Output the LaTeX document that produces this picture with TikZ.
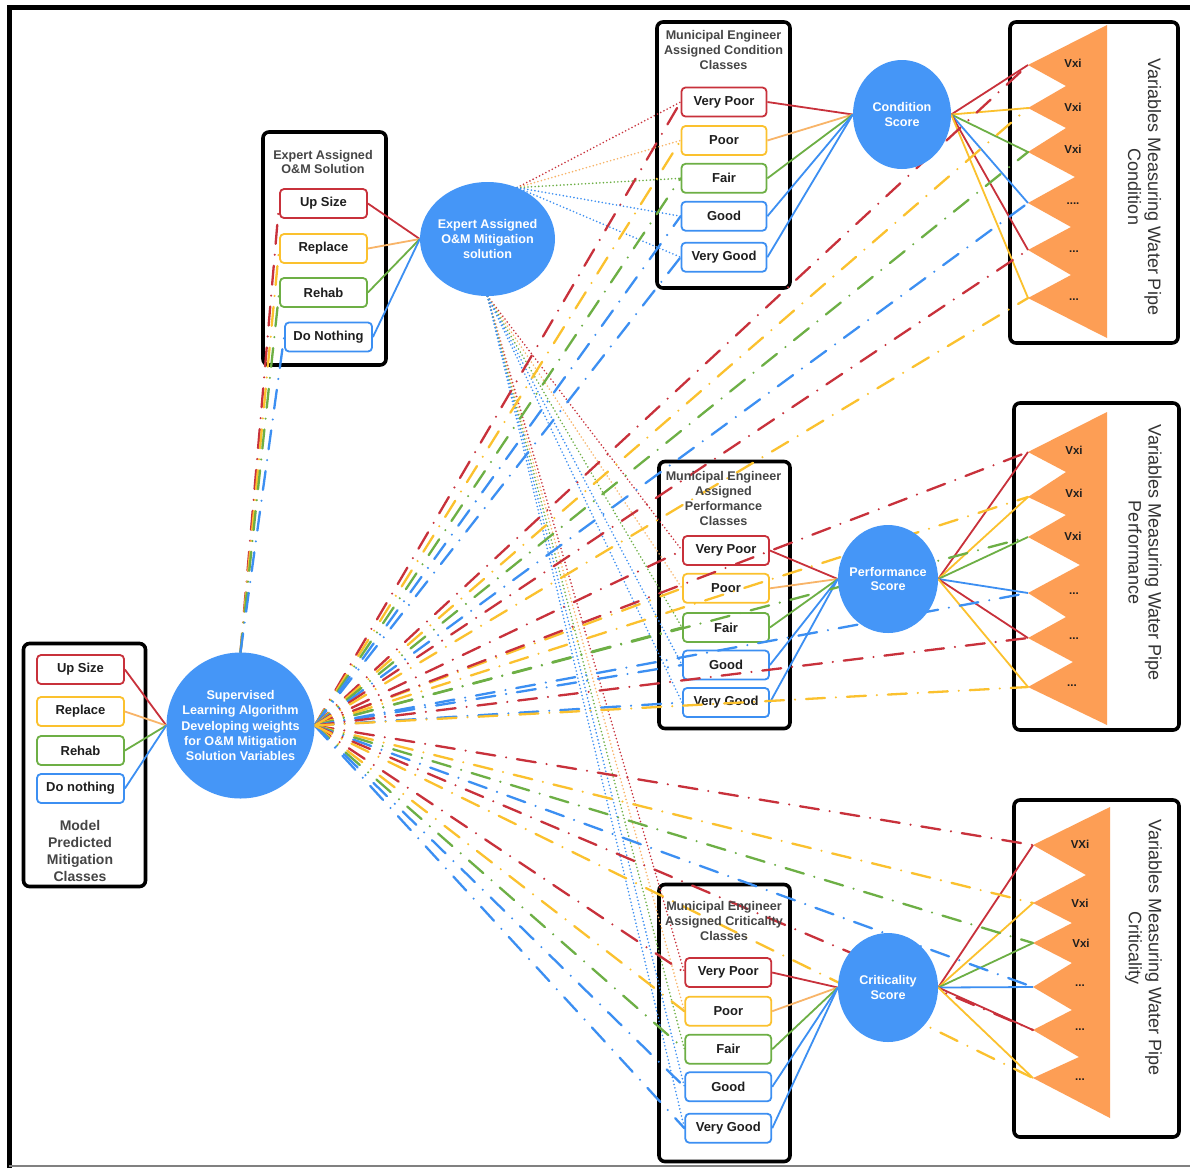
\documentclass[tikz,border=0pt]{standalone}
\usepackage{fontspec}
\setmainfont{Liberation Sans}
\usetikzlibrary{shapes.geometric}

\definecolor{cred}{HTML}{C8313B}
\definecolor{cyel}{HTML}{FBC12E}
\definecolor{corg}{HTML}{F8B468}
\definecolor{cgrn}{HTML}{6DAF45}
\definecolor{cblu}{HTML}{3C8FF2}
\definecolor{nodeblue}{HTML}{4596F7}
\definecolor{pipeorange}{HTML}{FD9E55}
\definecolor{titlegray}{HTML}{454545}
\definecolor{txt}{HTML}{1E1E1E}
\definecolor{vtxt}{HTML}{333333}

\pgfdeclarelayer{bg}
\pgfdeclarelayer{boxes}
\pgfdeclarelayer{links}
\pgfsetlayers{bg,boxes,links,main}

\tikzset{
  cls/.style={draw=#1, line width=1.8pt, rounded corners=4pt, fill=white,
    minimum width=86pt, minimum height=29pt, inner sep=0pt, text=txt,
    font=\bfseries\fontsize{13}{15}\selectfont},
  grp/.style={draw=black, line width=3.6pt, rounded corners=6pt, fill=white, inner sep=0pt},
  ttl/.style={text=titlegray, align=center, inner sep=0pt,
    font=\bfseries\fontsize{12.6}{15}\selectfont},
  score/.style={ellipse, fill=nodeblue, inner sep=-14pt, text=white, align=center,
    font=\bfseries\fontsize{12.6}{14.7}\selectfont},
  varlbl/.style={text=txt, inner sep=0pt, font=\bfseries\fontsize{11.5}{13}\selectfont},
  vert/.style={rotate=-90, text=vtxt, align=center, inner sep=0pt,
    font=\fontsize{18}{20}\selectfont},
  solidlink/.style={line width=1.8pt},
  dotlink/.style={line width=1.8pt, line cap=round, dash pattern=on 0pt off 3.6pt},
  ddlink/.style={line width=2.3pt, line cap=round, dash pattern=on 19pt off 11pt on 0pt off 11pt},
}

\begin{document}
\begin{tikzpicture}[x=1pt,y=-1pt]
\useasboundingbox (0,0) rectangle (1190,1168);

\begin{pgfonlayer}{bg}
  \fill[white] (0,0) rectangle (1190,1168);
  \draw[line width=5pt] (9,1168) -- (9,7) -- (1190,7);
  \draw[line width=1.5pt, gray] (9,1166) -- (1190,1166);
\end{pgfonlayer}

% ---------- group boxes, class boxes and variable panels ----------
\begin{pgfonlayer}{boxes}
  \node[grp, minimum width=122pt, minimum height=243pt] (mbox) at (84.5,765) {};
  \node[grp, minimum width=123pt, minimum height=233pt] (ebox) at (324.5,248.5) {};
  \node[grp, minimum width=133pt, minimum height=266pt] (cbox) at (723.5,155) {};
  \node[grp, minimum width=131pt, minimum height=267pt] (pbox) at (724.5,595) {};
  \node[grp, minimum width=131pt, minimum height=277pt] (kbox) at (724.5,1023) {};
  \node[grp, minimum width=168pt, minimum height=321pt] (cvar) at (1094,182.5) {};
  \node[grp, minimum width=165pt, minimum height=327pt] (pvar) at (1096.5,566.5) {};
  \node[grp, minimum width=165pt, minimum height=337pt] (kvar) at (1096.5,968.5) {};

  % model predicted classes
  \node[cls=cred, minimum width=87pt] (mUp) at (80.5,669.5) {Up Size};
  \node[cls=cyel, minimum width=87pt] (mRe) at (80.5,711.5) {Replace};
  \node[cls=cgrn, minimum width=87pt] (mRh) at (80.5,750.5) {Rehab};
  \node[cls=cblu, minimum width=87pt] (mDn) at (80.5,788.5) {Do nothing};

  % expert assigned solutions
  \node[cls=cred, minimum width=87pt] (eUp) at (323.5,203.5) {Up Size};
  \node[cls=cyel, minimum width=87pt] (eRe) at (323.5,248.5) {Replace};
  \node[cls=cgrn, minimum width=87pt] (eRh) at (323.5,292.5) {Rehab};
  \node[cls=cblu, minimum width=87pt] (eDn) at (328.5,337) {Do Nothing};

  % condition classes
  \node[cls=cred, minimum width=85pt] (cVP) at (724,102) {Very Poor};
  \node[cls=cyel, minimum width=85pt] (cP)  at (724,140.5) {Poor};
  \node[cls=cgrn, minimum width=85pt] (cF)  at (724,178.3) {Fair};
  \node[cls=cblu, minimum width=85pt] (cG)  at (724,216.2) {Good};
  \node[cls=cblu, minimum width=85pt] (cVG) at (724,257.2) {Very Good};

  % performance classes
  \node[cls=cred] (pVP) at (726,550.5) {Very Poor};
  \node[cls=cyel] (pP)  at (726,588.3) {Poor};
  \node[cls=cgrn] (pF)  at (726,627.5) {Fair};
  \node[cls=cblu] (pG)  at (726,665) {Good};
  \node[cls=cblu] (pVG) at (726,702.5) {Very Good};

  % criticality classes
  \node[cls=cred] (kVP) at (728.3,972.5) {Very Poor};
  \node[cls=cyel] (kP)  at (728.3,1011.2) {Poor};
  \node[cls=cgrn] (kF)  at (728.3,1049.2) {Fair};
  \node[cls=cblu] (kG)  at (728.3,1086.8) {Good};
  \node[cls=cblu] (kVG) at (728.3,1128.2) {Very Good};

  % tips of the variable panels
  \coordinate (ct1) at (1028,65);  \coordinate (ct2) at (1028,108);
  \coordinate (ct3) at (1028,152); \coordinate (ct4) at (1028,203);
  \coordinate (ct5) at (1028,250); \coordinate (ct6) at (1028,298);
  \coordinate (pt1) at (1028,452); \coordinate (pt2) at (1028,497);
  \coordinate (pt3) at (1028,537); \coordinate (pt4) at (1028,593);
  \coordinate (pt5) at (1028,638); \coordinate (pt6) at (1028,687);
  \coordinate (kt1) at (1033,845); \coordinate (kt2) at (1033,903);
  \coordinate (kt3) at (1033,943); \coordinate (kt4) at (1033,987);
  \coordinate (kt5) at (1033,1030); \coordinate (kt6) at (1033,1078);

  \fill[pipeorange] (1107,25) -- (ct1) -- (1066,86) -- (ct2) -- (1066,128) -- (ct3)
    -- (1075,177) -- (ct4) -- (1071,227) -- (ct5) -- (1071,275) -- (ct6) -- (1107,338) -- cycle;
  \fill[pipeorange] (1107,412) -- (pt1) -- (1066,472) -- (pt2) -- (1066,515) -- (pt3)
    -- (1080,565) -- (pt4) -- (1066,617) -- (pt5) -- (1073,662) -- (pt6) -- (1107,725) -- cycle;
  \fill[pipeorange] (1110,807) -- (kt1) -- (1086,875) -- (kt2) -- (1072,923) -- (kt3)
    -- (1072,963) -- (kt4) -- (1072,1010) -- (kt5) -- (1079,1057) -- (kt6) -- (1110,1118) -- cycle;
\end{pgfonlayer}

% ---------- round nodes ----------
\node[score, minimum width=148pt, minimum height=146pt,
      font=\bfseries\fontsize{12.6}{15.3}\selectfont] (sup) at (240.5,725.5)
  {Supervised\\Learning Algorithm\\Developing weights\\for O\&M Mitigation\\Solution Variables};
\node[score, minimum width=135pt, minimum height=114pt,
      font=\bfseries\fontsize{12.6}{15.3}\selectfont] (ex) at (487.5,239)
  {Expert Assigned\\O\&M Mitigation\\solution};
\node[score, minimum width=98pt, minimum height=109pt] (cs) at (902,114.5) {Condition\\Score};
\node[score, minimum width=100pt, minimum height=108pt] (ps) at (888,579) {Performance\\Score};
\node[score, minimum width=100pt, minimum height=109pt] (ks) at (888,987.5) {Criticality\\Score};

% ---------- titles ----------
\node[ttl, font=\bfseries\fontsize{14}{17.2}\selectfont] (mttl) at (80,851)
  {Model\\Predicted\\Mitigation\\Classes};
\node[ttl, font=\bfseries\fontsize{12.6}{13.7}\selectfont] (ettl) at (323,162)
  {Expert Assigned\\O\&M Solution};
\node[ttl] (cttl) at (723.5,50) {Municipal Engineer\\Assigned Condition\\Classes};
\node[ttl] (pttl) at (723.5,498.5) {Municipal Engineer\\Assigned\\Performance\\Classes};
\node[ttl] (kttl) at (724,921) {Municipal Engineer\\Assigned Criticality\\Classes};

% ---------- panel labels ----------
\node[varlbl] at (1073,63) {Vxi};
\node[varlbl] at (1073,107) {Vxi};
\node[varlbl] at (1073,149) {Vxi};
\node[varlbl] at (1073,204) {....};
\node[varlbl] at (1074,252) {...};
\node[varlbl] at (1074,300) {...};
\node[varlbl] at (1074,450) {Vxi};
\node[varlbl] at (1074,493) {Vxi};
\node[varlbl] at (1073,536) {Vxi};
\node[varlbl] at (1074,594) {...};
\node[varlbl] at (1074,639) {...};
\node[varlbl] at (1072,686) {...};
\node[varlbl] at (1080,844) {VXi};
\node[varlbl] at (1080,903) {Vxi};
\node[varlbl] at (1081,943) {Vxi};
\node[varlbl] at (1080,986) {...};
\node[varlbl] at (1080,1030) {...};
\node[varlbl] at (1080,1080) {...};

\node[vert] (cvt) at (1144.5,187) {Variables Measuring Water Pipe\\Condition};
\node[vert] (pvt) at (1145,552.5) {Variables Measuring Water Pipe\\Performance};
\node[vert] (kvt) at (1143.5,947.5) {Variables Measuring Water Pipe\\Criticality};

% ---------- connectors ----------
\begin{pgfonlayer}{links}
  % class boxes into their round nodes
  \foreach \a/\col in {mUp/cred, mRe/corg, mRh/cgrn, mDn/cblu}
    \draw[solidlink,\col] (\a.east) -- (sup.west);
  \foreach \a/\col in {eUp/cred, eRe/corg, eRh/cgrn, eDn/cblu}
    \draw[solidlink,\col] (\a.east) -- (ex.west);
  \foreach \s/\col in {VP/cred, P/corg, F/cgrn, G/cblu, VG/cblu} {
    \draw[solidlink,\col] (c\s.east) -- (cs.west);
    \draw[solidlink,\col] (p\s.east) -- (ps.west);
    \draw[solidlink,\col] (k\s.east) -- (ks.west);
  }
  % scores out to the measured variables
  \foreach \t/\col in {1/cred, 2/cyel, 3/cgrn, 4/cblu, 5/cred, 6/cyel} {
    \draw[solidlink,\col] (cs.east) -- (ct\t);
    \draw[solidlink,\col] (ps.east) -- (pt\t);
    \draw[solidlink,\col] (ks.east) -- (kt\t);
  }
  % expert solution to the engineer classes
  \foreach \s/\col in {VP/cred, P/corg, F/cgrn, G/cblu, VG/cblu} {
    \draw[dotlink,\col] (ex.60) -- (c\s.west);
    \draw[dotlink,\col] (ex.south) -- (p\s.west);
    \draw[dotlink,\col] (ex.south) -- (k\s.west);
  }
  % learning algorithm weights
  \foreach \s/\col in {VP/cred, P/cyel, F/cgrn, G/cblu, VG/cblu} {
    \draw[ddlink,\col] (sup.east) -- (c\s.west);
    \draw[ddlink,\col] (sup.east) -- (p\s.west);
    \draw[ddlink,\col] (sup.east) -- (k\s.west);
  }
  \foreach \t/\col in {1/cred, 2/cyel, 3/cgrn, 4/cblu, 5/cred, 6/cyel} {
    \draw[ddlink,\col] (sup.east) -- (ct\t);
    \draw[ddlink,\col] (sup.east) -- (pt\t);
    \draw[ddlink,\col] (sup.east) -- (kt\t);
  }
  \foreach \a/\col in {eUp/cred, eRe/cyel, eRh/cgrn, eDn/cblu}
    \draw[ddlink,\col] (sup.north) -- (\a.west);
\end{pgfonlayer}
\end{tikzpicture}
\end{document}
